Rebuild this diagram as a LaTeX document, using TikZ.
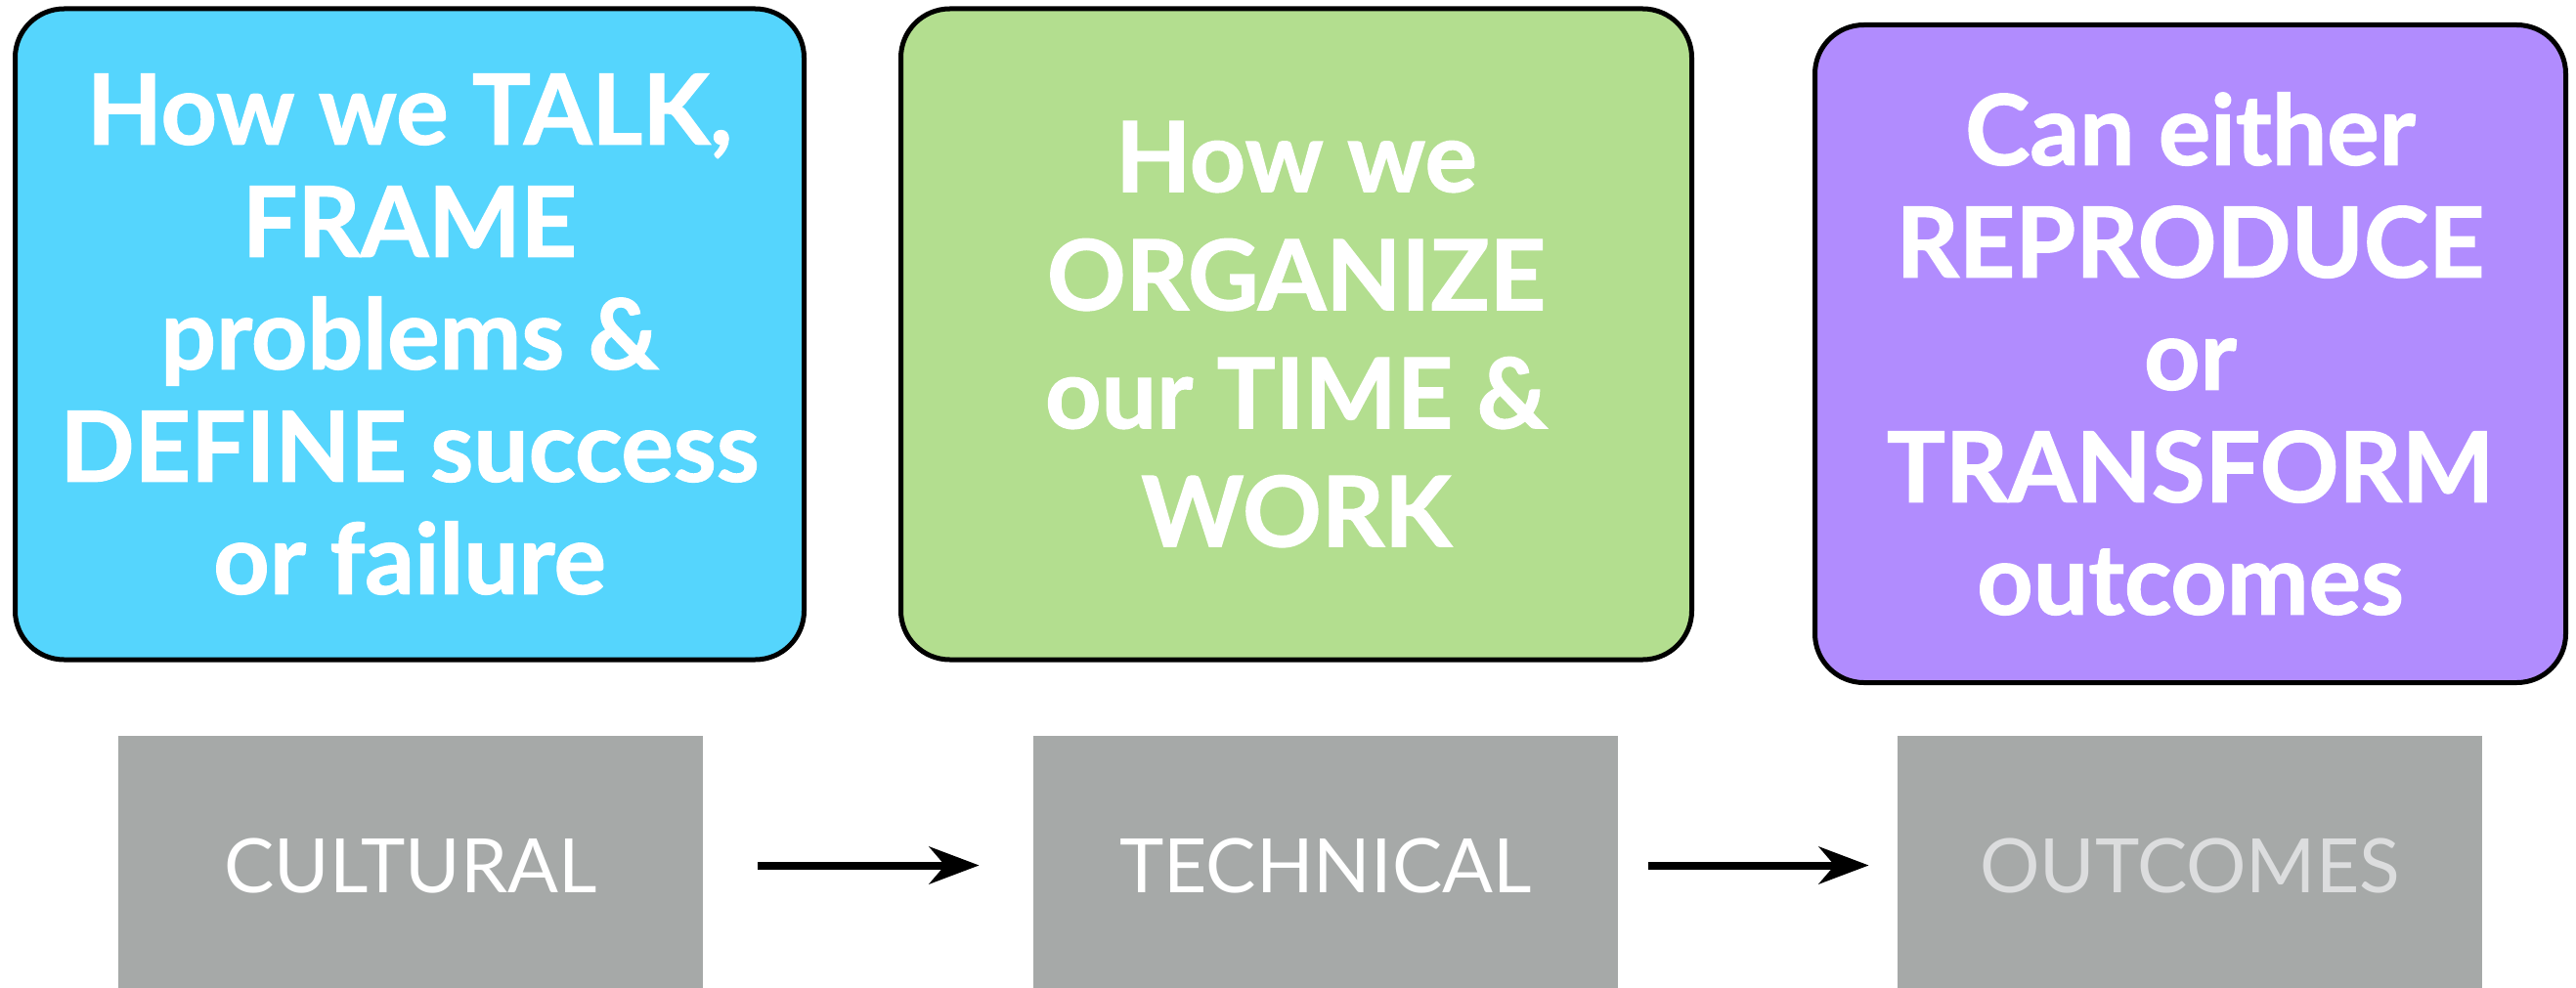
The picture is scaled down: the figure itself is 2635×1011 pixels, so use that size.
\documentclass[tikz,border=0pt]{standalone}
\usepackage{fontspec}
\setmainfont{Lato}[BoldFeatures={FakeBold=1.2}]
\usetikzlibrary{arrows.meta}

\definecolor{talkcyan}{HTML}{55D5FD}
\definecolor{orggreen}{HTML}{B3DE8F}
\definecolor{outpurple}{HTML}{B18CFE}
\definecolor{stagegray}{HTML}{A6A9A8}
\definecolor{paletext}{HTML}{DCDDDE}

\begin{document}
\begin{tikzpicture}[x=0.5pt,y=-0.5pt,
  idea/.style={draw=black, line width=2.5pt, rounded corners=25pt,
    text=white, align=center, inner sep=0pt,
    font=\bfseries\fontsize{50}{57.5}\selectfont},
  stage/.style={fill=stagegray, minimum width=299pt, minimum height=132.5pt,
    inner sep=0pt, text=white, font=\fontsize{38.4}{46}\selectfont},
  flow/.style={line width=4pt, -{Stealth[length=25.5pt,width=19pt,inset=8pt]}}]

\useasboundingbox (0,0) rectangle (2635,1011);

% three idea boxes
\node[idea, fill=talkcyan, minimum width=403.5pt, minimum height=333pt]
  (talk) at (419,342)
  {How we TALK,\\FRAME\\problems \&\\DEFINE success\\or failure};
\node[idea, fill=orggreen, minimum width=404.5pt, minimum height=333pt,
  font=\bfseries\fontsize{50}{60.5}\selectfont]
  (organize) at (1326,342)
  {How we\\ORGANIZE\\our TIME \&\\WORK};
\node[idea, fill=outpurple, minimum width=384pt, minimum height=336.5pt]
  (either) at (2240.5,362)
  {Can either\\REPRODUCE\\or\\TRANSFORM\\outcomes};

% stage row
\node[stage] (cultural) at (420,885.5) {CULTURAL};
\node[stage] (technical) at (1356,885.5) {TECHNICAL};
\node[stage, text=paletext] (outcomes) at (2240,885.5) {OUTCOMES};

\draw[flow, shorten <=28pt, shorten >=27.5pt] (cultural) -- (technical);
\draw[flow, shorten <=15.5pt, shorten >=14.5pt] (technical) -- (outcomes);
\end{tikzpicture}
\end{document}
